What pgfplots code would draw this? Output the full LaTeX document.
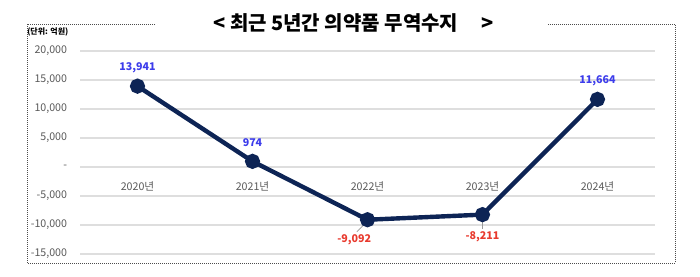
\documentclass[border=0pt]{standalone}
\usepackage{fontspec}
\setmainfont{Noto Sans CJK KR}
\usepackage{pgfplots}
\pgfplotsset{compat=1.18}
\definecolor{navy}{HTML}{0D2455}
\definecolor{gridc}{HTML}{DEDEDE}
\definecolor{tickc}{HTML}{595959}
\definecolor{posc}{HTML}{3C3CEB}
\definecolor{negc}{HTML}{E83A2E}
\begin{document}
\begin{tikzpicture}[x=0.75pt,y=0.75pt]
\useasboundingbox (0,0) rectangle (700,276);
\draw[densely dotted, black!70, line width=0.5pt] (155,252) -- (27,252) -- (27,13) -- (675,13) -- (675,252) -- (547,252);
\node[font=\fontsize{15pt}{17pt}\selectfont\bfseries, anchor=west, inner sep=0] at (213,253) {<\ 최근 5년간 의약품 무역수지\hspace{17pt}>};
\node[font=\fontsize{6pt}{7pt}\selectfont\bfseries, anchor=west, inner sep=0] at (27,244) {(단위: 억원)};
\begin{axis}[at={(60pt,16.5pt)}, anchor=south west, width=431.25pt, height=152.25pt, scale only axis,
  xmin=-0.5, xmax=4.5, ymin=-15000, ymax=20000,
  axis line style={draw=none}, major tick length=0pt,
  scaled y ticks=false,
  ymajorgrids, grid style={gridc, line width=1.1pt},
  ytick={-15000,-10000,-5000,0,5000,10000,15000,20000},
  yticklabels={{-15,000},{-10,000},{-5,000},{-},{5,000},{10,000},{15,000},{20,000}},
  xtick={0,1,2,3,4},
  xticklabels={2020년,2021년,2022년,2023년,2024년},
  ticklabel style={font=\fontsize{8pt}{9pt}\selectfont, text=tickc},
  yticklabel style={anchor=east, inner sep=0pt, xshift=-9.5pt},
  xticklabel style={anchor=center, yshift=51pt},
  clip=false,
]
\addplot[navy, line width=3.3pt, mark=*, mark size=4pt, mark options={fill=navy, draw=navy}] coordinates {
(0,13941) (1,974) (2,-9092) (3,-8211) (4,11664)};
\begin{scope}[every node/.style={font=\fontsize{8pt}{9pt}\selectfont\bfseries, inner sep=0}]
\node[text=posc] at (axis cs:0,13941) [yshift=13.5pt] {13,941};
\node[text=posc] at (axis cs:1,974) [yshift=14pt] {974};
\node[text=posc] at (axis cs:4,11664) [yshift=14pt] {11,664};
\node[text=negc] at (axis cs:2,-9092) [yshift=-15pt, xshift=-10pt] {-9,092};
\node[text=negc] at (axis cs:3,-8211) [yshift=-16.5pt] {-8,211};
\end{scope}
\draw[black!40, line width=0.6pt] ([xshift=-2pt,yshift=-3pt]axis cs:2,-9092) -- ([xshift=-8pt,yshift=-9pt]axis cs:2,-9092);
\draw[black!40, line width=0.6pt] ([yshift=-5pt]axis cs:3,-8211) -- ([yshift=-11pt]axis cs:3,-8211);
\end{axis}
\end{tikzpicture}
\end{document}
